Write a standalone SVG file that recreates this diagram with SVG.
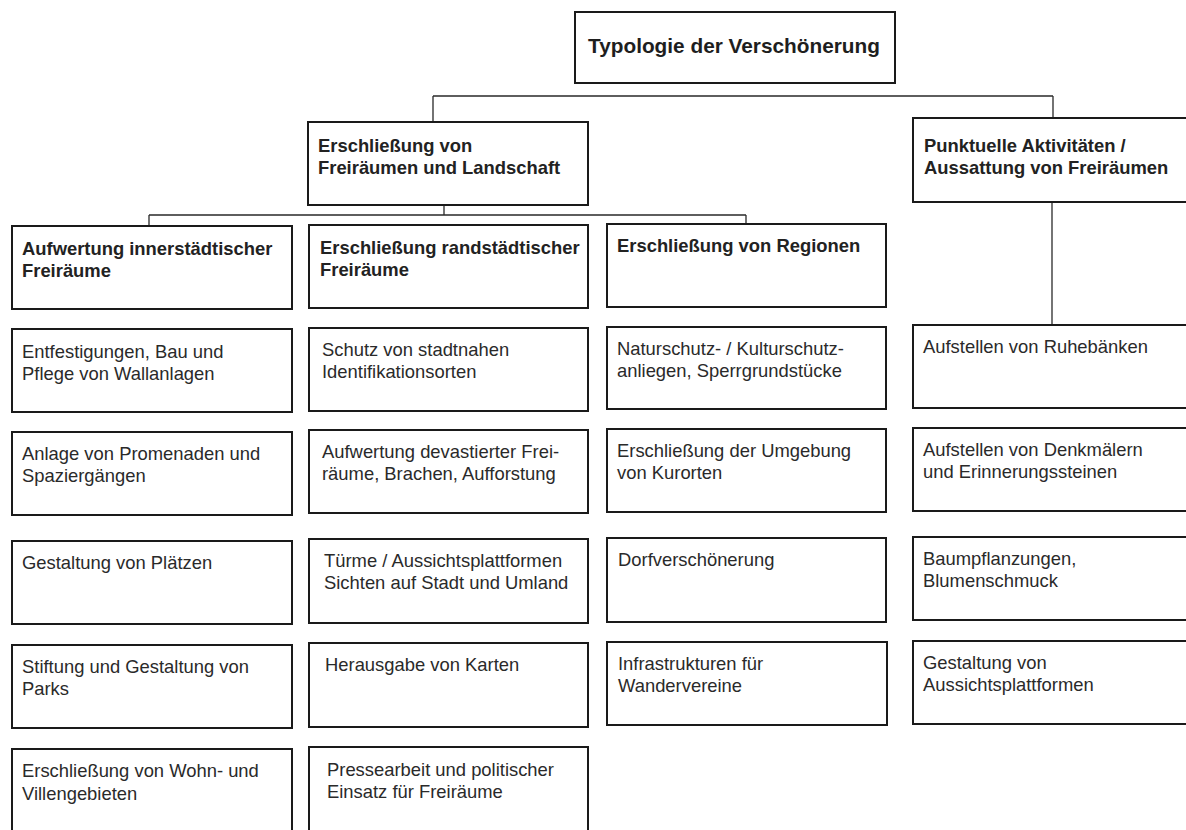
<svg xmlns="http://www.w3.org/2000/svg" width="1186" height="830" viewBox="0 0 1186 830">
<style>
  .box { fill: #ffffff; stroke: #1a1a1a; stroke-width: 2; }
  .conn { fill: none; stroke: #2a2a2a; stroke-width: 1.3; }
  text { font-family: "Liberation Sans", Arial, sans-serif; fill: #2a2a2a; font-size: 18.4px; }
  .b { font-weight: bold; fill: #222222; }
  .title { font-weight: bold; font-size: 20.8px; fill: #1e1e1e; }
</style>
<rect width="1186" height="830" fill="#ffffff"/>
<g id="connectors">
  <path class="conn" d="M433,96 H1053 M433,96 V122 M1053,96 V118"/>
  <path class="conn" d="M444,205 V215 M149,215 H746 M149,215 V226 M746,215 V225"/>
  <path class="conn" d="M1052,202 V326"/>
</g>
<g id="root"><rect class="box" x="575" y="12" width="320" height="71"/><text class="title" x="588" y="53">Typologie der Verschönerung</text></g>
<g id="n-erschl"><rect class="box" x="308" y="122" width="280" height="83"/><text class="b" x="318" y="152">Erschließung von</text><text class="b" x="318" y="174">Freiräumen und Landschaft</text></g>
<g id="n-punkt"><rect class="box" x="913" y="118" width="290" height="84"/><text class="b" x="924" y="152">Punktuelle Aktivitäten /</text><text class="b" x="924" y="174">Aussattung von Freiräumen</text></g>
<g id="h-inner"><rect class="box" x="12" y="226" width="280" height="83"/><text class="b" x="22" y="255">Aufwertung innerstädtischer</text><text class="b" x="22" y="277">Freiräume</text></g>
<g id="h-rand"><rect class="box" x="309" y="225" width="279" height="83"/><text class="b" x="320" y="254">Erschließung randstädtischer</text><text class="b" x="320" y="276">Freiräume</text></g>
<g id="h-reg"><rect class="box" x="607" y="224" width="279" height="83"/><text class="b" x="617" y="252">Erschließung von Regionen</text></g>

<g id="c1r1"><rect class="box" x="12" y="329" width="280" height="83"/><text x="22" y="358">Entfestigungen, Bau und</text><text x="22" y="380">Pflege von Wallanlagen</text></g>
<g id="c1r2"><rect class="box" x="12" y="432" width="280" height="83"/><text x="22" y="460">Anlage von Promenaden und</text><text x="22" y="482">Spaziergängen</text></g>
<g id="c1r3"><rect class="box" x="12" y="541" width="280" height="83"/><text x="22" y="569">Gestaltung von Plätzen</text></g>
<g id="c1r4"><rect class="box" x="12" y="645" width="280" height="83"/><text x="22" y="673">Stiftung und Gestaltung von</text><text x="22" y="695">Parks</text></g>
<g id="c1r5"><rect class="box" x="12" y="749" width="280" height="90"/><text x="22" y="777">Erschließung von Wohn- und</text><text x="22" y="800">Villengebieten</text></g>

<g id="c2r1"><rect class="box" x="309" y="328" width="279" height="83"/><text x="322" y="356">Schutz von stadtnahen</text><text x="322" y="378">Identifikationsorten</text></g>
<g id="c2r2"><rect class="box" x="309" y="430" width="279" height="83"/><text x="322" y="458">Aufwertung devastierter Frei-</text><text x="322" y="480">räume, Brachen, Aufforstung</text></g>
<g id="c2r3"><rect class="box" x="309" y="539" width="279" height="84"/><text x="324" y="567">Türme / Aussichtsplattformen</text><text x="324" y="589">Sichten auf Stadt und Umland</text></g>
<g id="c2r4"><rect class="box" x="309" y="643" width="279" height="84"/><text x="325" y="671">Herausgabe von Karten</text></g>
<g id="c2r5"><rect class="box" x="309" y="747" width="279" height="92"/><text x="327" y="776">Pressearbeit und politischer</text><text x="327" y="798">Einsatz für Freiräume</text></g>

<g id="c3r1"><rect class="box" x="607" y="327" width="279" height="82"/><text x="617" y="355">Naturschutz- / Kulturschutz-</text><text x="617" y="377">anliegen, Sperrgrundstücke</text></g>
<g id="c3r2"><rect class="box" x="607" y="429" width="279" height="83"/><text x="617" y="457">Erschließung der Umgebung</text><text x="617" y="479">von Kurorten</text></g>
<g id="c3r3"><rect class="box" x="607" y="538" width="279" height="84"/><text x="618" y="566">Dorfverschönerung</text></g>
<g id="c3r4"><rect class="box" x="607" y="642" width="280" height="83"/><text x="618" y="670">Infrastrukturen für</text><text x="618" y="692">Wandervereine</text></g>

<g id="c4r1"><rect class="box" x="913" y="325" width="290" height="83"/><text x="923" y="353">Aufstellen von Ruhebänken</text></g>
<g id="c4r2"><rect class="box" x="913" y="428" width="290" height="83"/><text x="923" y="456">Aufstellen von Denkmälern</text><text x="923" y="478">und Erinnerungssteinen</text></g>
<g id="c4r3"><rect class="box" x="913" y="537" width="290" height="83"/><text x="923" y="565">Baumpflanzungen,</text><text x="923" y="587">Blumenschmuck</text></g>
<g id="c4r4"><rect class="box" x="913" y="641" width="290" height="83"/><text x="923" y="669">Gestaltung von</text><text x="923" y="691">Aussichtsplattformen</text></g>
</svg>
